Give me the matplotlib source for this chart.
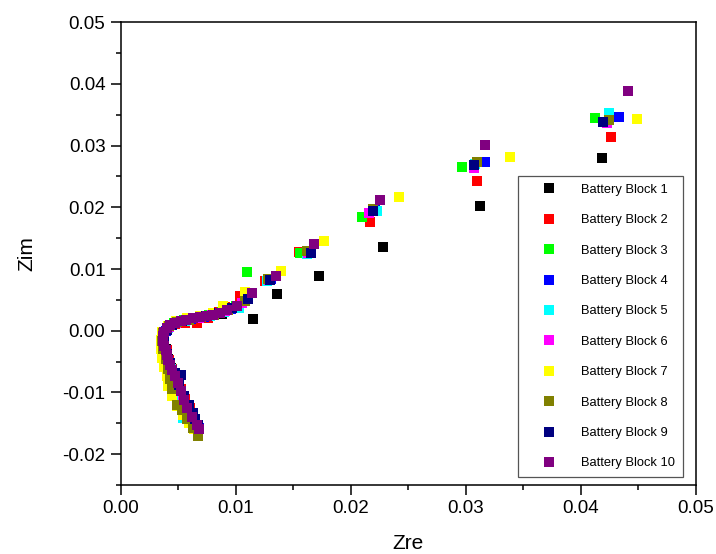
# Nyquist plot (Zre vs Zim) for ten battery blocks
import matplotlib
matplotlib.use('Agg')
import matplotlib.pyplot as plt
from matplotlib.ticker import MultipleLocator

plt.rcParams['font.family'] = ['Liberation Sans', 'DejaVu Sans']

labels = ['Battery Block %d' % i for i in range(1, 11)]
colors = ['#000000', '#ff0000', '#00ff00', '#0000ff', '#00ffff',
          '#ff00ff', '#ffff00', '#808000', '#000080', '#800080']

zre_b1 = [0.0418, 0.0312, 0.0228, 0.0172, 0.0136, 0.0115, 0.0088, 0.0075, 0.0062, 0.0050, 0.0042,
          0.0038, 0.0038, 0.0039, 0.0041, 0.0044, 0.0047, 0.0051, 0.0055, 0.0059, 0.0063, 0.0066]
zim_b1 = [0.0280, 0.0202, 0.0136, 0.0089, 0.0060, 0.0019, 0.0027, 0.0023, 0.0019, 0.0014, 0.0007,
          -0.0003, -0.0016, -0.0030, -0.0045, -0.0060, -0.0075, -0.0092, -0.0110, -0.0127, -0.0143, -0.0155]

zre_b2 = [0.0426, 0.0310, 0.0217, 0.0155, 0.0125, 0.0104, 0.0091, 0.0085, 0.0076, 0.0066, 0.0056,
          0.0047, 0.0041, 0.0038, 0.0038, 0.0040, 0.0042, 0.0045, 0.0048, 0.0052, 0.0056, 0.0060,
          0.0063, 0.0066]
zim_b2 = [0.0314, 0.0242, 0.0177, 0.0128, 0.0080, 0.0057, 0.0039, 0.0030, 0.0021, 0.0012, 0.0013,
          0.0011, 0.0005, -0.0005, -0.0018, -0.0032, -0.0047, -0.0062, -0.0077, -0.0094, -0.0111, -0.0126,
          -0.0140, -0.0152]

zre_b3 = [0.0412, 0.0297, 0.0210, 0.0156, 0.0110, 0.0100, 0.0088, 0.0077, 0.0066, 0.0055, 0.0046,
          0.0040, 0.0037, 0.0037, 0.0039, 0.0041, 0.0044, 0.0047, 0.0051, 0.0055, 0.0059, 0.0063, 0.0066]
zim_b3 = [0.0345, 0.0265, 0.0184, 0.0126, 0.0095, 0.0040, 0.0031, 0.0025, 0.0021, 0.0017, 0.0012,
          0.0004, -0.0006, -0.0019, -0.0033, -0.0048, -0.0063, -0.0078, -0.0095, -0.0112, -0.0128, -0.0144, -0.0157]

zre_b4 = [0.0433, 0.0317, 0.0221, 0.0165, 0.0131, 0.0111, 0.0096, 0.0084, 0.0072, 0.0061, 0.0051,
          0.0044, 0.0039, 0.0037, 0.0038, 0.0040, 0.0043, 0.0046, 0.0050, 0.0054, 0.0058, 0.0062,
          0.0065, 0.0068]
zim_b4 = [0.0346, 0.0273, 0.0195, 0.0128, 0.0084, 0.0053, 0.0036, 0.0028, 0.0023, 0.0019, 0.0015,
          0.0009, 0.0000, -0.0012, -0.0026, -0.0041, -0.0057, -0.0072, -0.0089, -0.0106, -0.0122, -0.0138,
          -0.0150, -0.0158]

zre_b5 = [0.0424, 0.0308, 0.0223, 0.0162, 0.0127, 0.0103, 0.0090, 0.0078, 0.0067, 0.0056, 0.0047,
          0.0041, 0.0038, 0.0037, 0.0039, 0.0041, 0.0044, 0.0047, 0.0050, 0.0053, 0.0058, 0.0054,
          0.0062, 0.0064]
zim_b5 = [0.0352, 0.0270, 0.0194, 0.0125, 0.0080, 0.0037, 0.0030, 0.0024, 0.0020, 0.0016, 0.0012,
          0.0005, -0.0005, -0.0018, -0.0032, -0.0047, -0.0062, -0.0078, -0.0094, -0.0110, -0.0128, -0.0142,
          -0.0150, -0.0156]

zre_b6 = [0.0423, 0.0307, 0.0216, 0.0163, 0.0129, 0.0105, 0.0091, 0.0079, 0.0068, 0.0057, 0.0048,
          0.0042, 0.0038, 0.0037, 0.0038, 0.0040, 0.0043, 0.0046, 0.0050, 0.0054, 0.0058, 0.0062, 0.0065]
zim_b6 = [0.0336, 0.0264, 0.0191, 0.0126, 0.0082, 0.0045, 0.0032, 0.0025, 0.0021, 0.0017, 0.0013,
          0.0006, -0.0004, -0.0017, -0.0031, -0.0046, -0.0061, -0.0076, -0.0092, -0.0109, -0.0125, -0.0140, -0.0153]

zre_b7 = [0.0449, 0.0338, 0.0242, 0.0177, 0.0139, 0.0108, 0.0089, 0.0080, 0.0069, 0.0058, 0.0048,
          0.0041, 0.0036, 0.0035, 0.0035, 0.0036, 0.0038, 0.0040, 0.0041, 0.0045, 0.0049, 0.0054,
          0.0059, 0.0064]
zim_b7 = [0.0343, 0.0281, 0.0216, 0.0146, 0.0096, 0.0063, 0.0040, 0.0028, 0.0024, 0.0020, 0.0015,
          0.0008, -0.0002, -0.0015, -0.0029, -0.0044, -0.0059, -0.0074, -0.0090, -0.0106, -0.0122, -0.0137,
          -0.0150, -0.0160]

zre_b8 = [0.0424, 0.0310, 0.0219, 0.0162, 0.0128, 0.0108, 0.0093, 0.0081, 0.0070, 0.0059, 0.0049,
          0.0042, 0.0037, 0.0036, 0.0037, 0.0039, 0.0041, 0.0043, 0.0045, 0.0049, 0.0053, 0.0058,
          0.0063, 0.0067]
zim_b8 = [0.0341, 0.0274, 0.0197, 0.0130, 0.0084, 0.0048, 0.0034, 0.0026, 0.0022, 0.0018, 0.0014,
          0.0007, -0.0003, -0.0016, -0.0030, -0.0046, -0.0062, -0.0079, -0.0095, -0.0120, -0.0128, -0.0143,
          -0.0157, -0.0171]

zre_b9 = [0.0419, 0.0307, 0.0219, 0.0165, 0.0130, 0.0111, 0.0097, 0.0085, 0.0074, 0.0063, 0.0053,
          0.0045, 0.0040, 0.0038, 0.0038, 0.0040, 0.0043, 0.0047, 0.0052, 0.0051, 0.0055, 0.0059,
          0.0063, 0.0065, 0.0067]
zim_b9 = [0.0339, 0.0268, 0.0194, 0.0126, 0.0082, 0.0051, 0.0037, 0.0029, 0.0024, 0.0020, 0.0016,
          0.0010, 0.0001, -0.0010, -0.0023, -0.0038, -0.0053, -0.0068, -0.0072, -0.0088, -0.0105, -0.0121,
          -0.0133, -0.0143, -0.0152]

zre_b10 = [0.0441, 0.0317, 0.0225, 0.0168, 0.0135, 0.0114, 0.0101, 0.0092, 0.0086, 0.0080, 0.0075,
           0.0069, 0.0063, 0.0057, 0.0052, 0.0047, 0.0043, 0.0040, 0.0038, 0.0037, 0.0037, 0.0038,
           0.0039, 0.0040, 0.0041, 0.0043, 0.0045, 0.0047, 0.0050, 0.0052, 0.0055, 0.0058, 0.0062,
           0.0066, 0.0068]
zim_b10 = [0.0389, 0.0301, 0.0212, 0.0141, 0.0089, 0.0061, 0.0040, 0.0033, 0.0028, 0.0026, 0.0024,
           0.0022, 0.0020, 0.0018, 0.0016, 0.0013, 0.0009, 0.0004, -0.0002, -0.0009, -0.0016, -0.0024,
           -0.0032, -0.0040, -0.0048, -0.0056, -0.0064, -0.0073, -0.0085, -0.0098, -0.0112, -0.0125, -0.0139,
           -0.0152, -0.0160]

zre_all = [zre_b1, zre_b2, zre_b3, zre_b4, zre_b5, zre_b6, zre_b7, zre_b8, zre_b9, zre_b10]
zim_all = [zim_b1, zim_b2, zim_b3, zim_b4, zim_b5, zim_b6, zim_b7, zim_b8, zim_b9, zim_b10]

fig = plt.figure(figsize=(7.16, 5.54), dpi=100)
ax = fig.add_axes([0.1686, 0.1245, 0.8034, 0.8355])

for zr, zi, c, lab in zip(zre_all, zim_all, colors, labels):
    ax.plot(zr, zi, 's', color=c, markersize=7.3, markeredgewidth=0, linestyle='none', label=lab)

ax.set_xlim(0, 0.05)
ax.set_ylim(-0.025, 0.05)
ax.xaxis.set_major_locator(MultipleLocator(0.01))
ax.xaxis.set_minor_locator(MultipleLocator(0.005))
ax.yaxis.set_major_locator(MultipleLocator(0.01))
ax.yaxis.set_minor_locator(MultipleLocator(0.005))
ax.xaxis.set_major_formatter(lambda v, p: '%.2f' % v)
ax.yaxis.set_major_formatter(lambda v, p: '%.2f' % v)
ax.tick_params(which='major', direction='out', length=7, width=1.1, labelsize=13.5, pad=4)
ax.tick_params(which='minor', direction='out', length=3.6, width=1.1)
for s in ax.spines.values():
    s.set_linewidth(1.1)

ax.set_xlabel('Zre', fontsize=15, labelpad=12)
ax.set_ylabel('Zim', fontsize=15, labelpad=19)

leg = ax.legend(loc='lower right', bbox_to_anchor=(0.977, 0.017), fontsize=9.3,
                frameon=True, fancybox=False, framealpha=1, edgecolor='#555555',
                labelspacing=1.42, borderpad=0.6, handlelength=3.5, handletextpad=0.75,
                markerscale=1.0, borderaxespad=0)
leg.get_frame().set_linewidth(0.9)

fig.savefig('out.png', dpi=100)
